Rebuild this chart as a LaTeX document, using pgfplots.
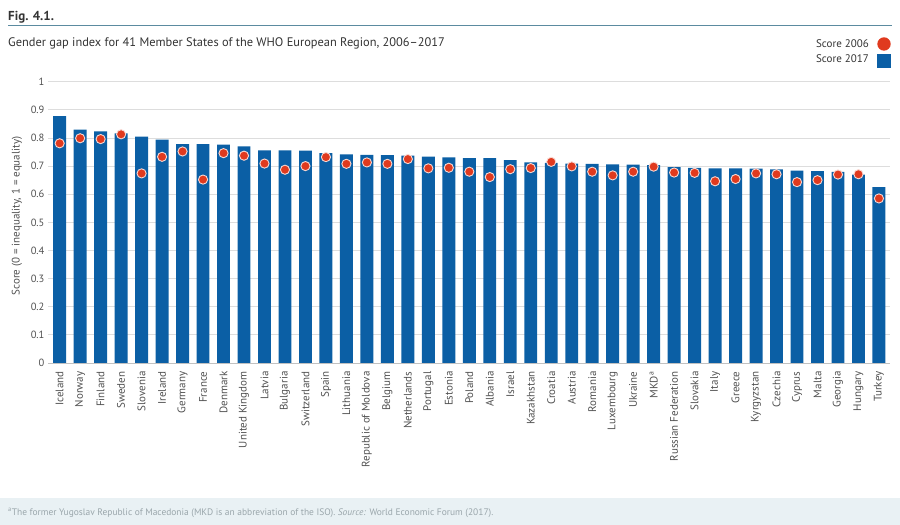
\documentclass[border=0pt]{standalone}
\usepackage{fontspec}
\setmainfont{PT Sans}
\usepackage{pgfplots}
\usepackage{pgfplotstable}
\pgfplotsset{compat=1.18}

\definecolor{barblue}{HTML}{0B5FA5}
\definecolor{dotred}{HTML}{E03A1E}
\definecolor{gridgray}{HTML}{DDDDDD}
\definecolor{rulecol}{HTML}{5B8BA0}
\definecolor{txt}{HTML}{333333}
\definecolor{ticktxt}{HTML}{505050}
\definecolor{notebg}{HTML}{E9F1F4}
\definecolor{notetxt}{HTML}{9AA6AB}

% Gender gap index, 2017 (bars) and 2006 (dots)
\pgfplotstableread{
idx s2017 s2006
0  0.878 0.781
1  0.830 0.799
2  0.823 0.796
3  0.816 0.813
4  0.805 0.674
5  0.794 0.733
6  0.778 0.752
7  0.778 0.652
8  0.776 0.746
9  0.770 0.737
10 0.756 0.709
11 0.756 0.687
12 0.755 0.700
13 0.746 0.732
14 0.742 0.708
15 0.740 0.713
16 0.739 0.708
17 0.737 0.725
18 0.734 0.692
19 0.731 0.694
20 0.728 0.680
21 0.728 0.661
22 0.721 0.689
23 0.713 0.693
24 0.711 0.715
25 0.709 0.699
26 0.708 0.680
27 0.706 0.667
28 0.705 0.680
29 0.703 0.698
30 0.696 0.677
31 0.694 0.676
32 0.692 0.646
33 0.692 0.654
34 0.691 0.674
35 0.688 0.671
36 0.684 0.643
37 0.682 0.650
38 0.679 0.670
39 0.670 0.671
40 0.625 0.585
}\scores

\begin{document}
\begin{tikzpicture}[x=1pt,y=1pt]
\path[use as bounding box] (0,0) rectangle (900,525);

% footnote band
\fill[notebg] (0,0) rectangle (900,27);
\node[anchor=base west, inner sep=0, font=\fontsize{9.45}{10}\selectfont, text=notetxt] at (8,9.5)
  {\textsuperscript{a}The former Yugoslav Republic of Macedonia (MKD is an abbreviation of the ISO). \textit{Source:} World Economic Forum (2017).};

% heading
\node[anchor=base west, inner sep=0, font=\bfseries\fontsize{13}{15}\selectfont, text=txt] at (8,504) {Fig. 4.1.};
\draw[rulecol, line width=1.2] (8,499.3) -- (892,499.3);
\node[anchor=base west, inner sep=0, font=\fontsize{12.4}{14}\selectfont, text=txt] at (8,478.5)
  {Gender gap index for 41 Member States of the WHO European Region, 2006--2017};

% legend
\node[anchor=base east, inner sep=0, font=\fontsize{11}{13}\selectfont, text=txt] at (869,477) {Score 2006};
\fill[dotred] (884,481) circle (6.7);
\node[anchor=base east, inner sep=0, font=\fontsize{11}{13}\selectfont, text=txt] at (869,462.5) {Score 2017};
\fill[barblue] (877,456.7) rectangle (891,470.7);

% y axis title
\node[rotate=90, font=\fontsize{11}{13}\selectfont, text=ticktxt] at (17,309) {Score (0 = inequality, 1 = equality)};

\begin{axis}[
  at={(48pt,162pt)}, anchor=south west,
  scale only axis, width=842pt, height=281.3pt,
  xmin=-0.57, xmax=40.54, ymin=0, ymax=1,
  axis lines*=left,
  y axis line style={draw=none},
  x axis line style={draw=gridgray!70!gray, line width=0.8pt},
  major tick length=0pt,
  ymajorgrids, grid style={gridgray, line width=0.8pt},
  ytick={0,0.1,0.2,0.3,0.4,0.5,0.6,0.7,0.8,0.9,1},
  yticklabels={0,0.1,0.2,0.3,0.4,0.5,0.6,0.7,0.8,0.9,1},
  yticklabel style={font=\fontsize{10.5}{12}\selectfont, text=ticktxt},
  xtick={0,...,40},
  xticklabels={Iceland,Norway,Finland,Sweden,Slovenia,Ireland,Germany,France,Denmark,United Kingdom,Latvia,Bulgaria,Switzerland,Spain,Lithuania,Republic of Moldova,Belgium,Netherlands,Portugal,Estonia,Poland,Albania,Israel,Kazakhstan,Croatia,Austria,Romania,Luxembourg,Ukraine,{MKD\textsuperscript{a}},Russian Federation,Slovakia,Italy,Greece,Kyrgyzstan,Czechia,Cyprus,Malta,Georgia,Hungary,Turkey},
  xticklabel style={yshift=-5pt, rotate=90, anchor=east, font=\fontsize{11}{13}\selectfont, text=ticktxt},
  clip=false,
]
\addplot[ybar, bar width=0.63, fill=barblue, draw=none] table[x=idx, y=s2017] {\scores};
\addplot[only marks, mark=*, mark size=4.6pt,
  mark options={fill=dotred, draw=white!80!dotred, line width=0.9pt}]
  table[x=idx, y=s2006] {\scores};
\end{axis}
\end{tikzpicture}
\end{document}
